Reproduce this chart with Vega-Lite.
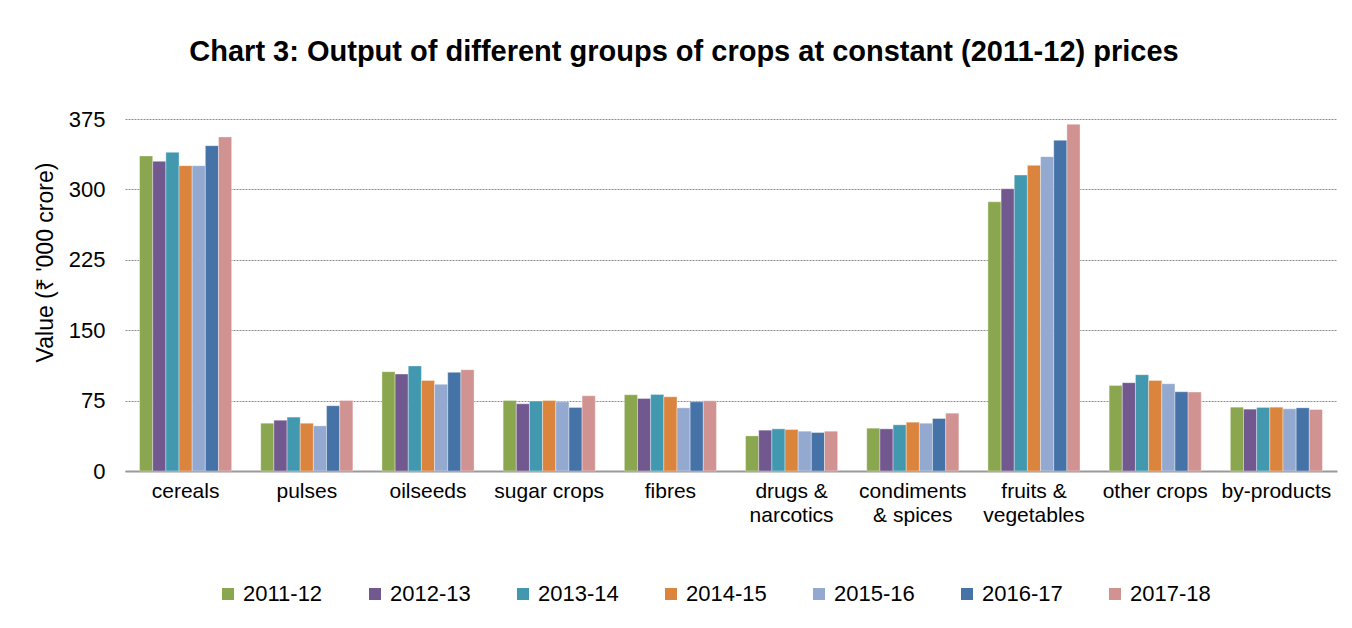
{
  "$schema": "https://vega.github.io/schema/vega-lite/v6.json",
  "width": 1212,
  "height": 352,
  "autosize": {"type": "none"},
  "padding": {"left": 125, "top": 119, "right": 15, "bottom": 157},
  "background": "white",
  "title": {
    "text": "Chart 3: Output of different groups of crops at constant (2011-12) prices",
    "font": "Liberation Sans",
    "fontSize": 29,
    "fontWeight": "bold",
    "color": "#000000",
    "anchor": "middle",
    "frame": "group",
    "dx": -47,
    "offset": 41
  },
  "data": {
    "values": [
      {"crop": "cereals", "year": "2011-12", "value": 335.6},
      {"crop": "cereals", "year": "2012-13", "value": 329.9},
      {"crop": "cereals", "year": "2013-14", "value": 339.5},
      {"crop": "cereals", "year": "2014-15", "value": 325.3},
      {"crop": "cereals", "year": "2015-16", "value": 325.3},
      {"crop": "cereals", "year": "2016-17", "value": 346.6},
      {"crop": "cereals", "year": "2017-18", "value": 355.9},
      {"crop": "pulses", "year": "2011-12", "value": 50.9},
      {"crop": "pulses", "year": "2012-13", "value": 54.1},
      {"crop": "pulses", "year": "2013-14", "value": 57.4},
      {"crop": "pulses", "year": "2014-15", "value": 50.9},
      {"crop": "pulses", "year": "2015-16", "value": 48.1},
      {"crop": "pulses", "year": "2016-17", "value": 69.5},
      {"crop": "pulses", "year": "2017-18", "value": 75.2},
      {"crop": "oilseeds", "year": "2011-12", "value": 105.8},
      {"crop": "oilseeds", "year": "2012-13", "value": 103.3},
      {"crop": "oilseeds", "year": "2013-14", "value": 111.9},
      {"crop": "oilseeds", "year": "2014-15", "value": 96.5},
      {"crop": "oilseeds", "year": "2015-16", "value": 92.3},
      {"crop": "oilseeds", "year": "2016-17", "value": 105.1},
      {"crop": "oilseeds", "year": "2017-18", "value": 107.9},
      {"crop": "sugar crops", "year": "2011-12", "value": 75.2},
      {"crop": "sugar crops", "year": "2012-13", "value": 71.6},
      {"crop": "sugar crops", "year": "2013-14", "value": 74.5},
      {"crop": "sugar crops", "year": "2014-15", "value": 75.2},
      {"crop": "sugar crops", "year": "2015-16", "value": 73.7},
      {"crop": "sugar crops", "year": "2016-17", "value": 67.7},
      {"crop": "sugar crops", "year": "2017-18", "value": 80.2},
      {"crop": "fibres", "year": "2011-12", "value": 81.2},
      {"crop": "fibres", "year": "2012-13", "value": 77.3},
      {"crop": "fibres", "year": "2013-14", "value": 81.6},
      {"crop": "fibres", "year": "2014-15", "value": 79.1},
      {"crop": "fibres", "year": "2015-16", "value": 67.3},
      {"crop": "fibres", "year": "2016-17", "value": 73.7},
      {"crop": "fibres", "year": "2017-18", "value": 74.8},
      {"crop": "drugs & narcotics", "year": "2011-12", "value": 37.4},
      {"crop": "drugs & narcotics", "year": "2012-13", "value": 43.5},
      {"crop": "drugs & narcotics", "year": "2013-14", "value": 44.9},
      {"crop": "drugs & narcotics", "year": "2014-15", "value": 44.2},
      {"crop": "drugs & narcotics", "year": "2015-16", "value": 42.4},
      {"crop": "drugs & narcotics", "year": "2016-17", "value": 41.0},
      {"crop": "drugs & narcotics", "year": "2017-18", "value": 42.4},
      {"crop": "condiments & spices", "year": "2011-12", "value": 45.6},
      {"crop": "condiments & spices", "year": "2012-13", "value": 44.9},
      {"crop": "condiments & spices", "year": "2013-14", "value": 49.2},
      {"crop": "condiments & spices", "year": "2014-15", "value": 52.0},
      {"crop": "condiments & spices", "year": "2015-16", "value": 50.9},
      {"crop": "condiments & spices", "year": "2016-17", "value": 55.9},
      {"crop": "condiments & spices", "year": "2017-18", "value": 61.6},
      {"crop": "fruits & vegetables", "year": "2011-12", "value": 286.8},
      {"crop": "fruits & vegetables", "year": "2012-13", "value": 300.7},
      {"crop": "fruits & vegetables", "year": "2013-14", "value": 315.3},
      {"crop": "fruits & vegetables", "year": "2014-15", "value": 325.6},
      {"crop": "fruits & vegetables", "year": "2015-16", "value": 334.9},
      {"crop": "fruits & vegetables", "year": "2016-17", "value": 352.3},
      {"crop": "fruits & vegetables", "year": "2017-18", "value": 369.4},
      {"crop": "other crops", "year": "2011-12", "value": 91.2},
      {"crop": "other crops", "year": "2012-13", "value": 94.1},
      {"crop": "other crops", "year": "2013-14", "value": 102.6},
      {"crop": "other crops", "year": "2014-15", "value": 96.5},
      {"crop": "other crops", "year": "2015-16", "value": 93.0},
      {"crop": "other crops", "year": "2016-17", "value": 84.4},
      {"crop": "other crops", "year": "2017-18", "value": 84.1},
      {"crop": "by-products", "year": "2011-12", "value": 68.0},
      {"crop": "by-products", "year": "2012-13", "value": 65.9},
      {"crop": "by-products", "year": "2013-14", "value": 67.7},
      {"crop": "by-products", "year": "2014-15", "value": 68.0},
      {"crop": "by-products", "year": "2015-16", "value": 66.3},
      {"crop": "by-products", "year": "2016-17", "value": 67.3},
      {"crop": "by-products", "year": "2017-18", "value": 65.5}
    ]
  },
  "mark": {"type": "bar", "stroke": "white", "strokeWidth": 0.6, "strokeOpacity": 0.6},
  "encoding": {
    "x": {
      "field": "crop",
      "type": "nominal",
      "sort": null,
      "scale": {"paddingInner": 0.24, "paddingOuter": 0.12},
      "axis": {
        "title": null,
        "labelAngle": 0,
        "labelFont": "Liberation Sans",
        "labelFontSize": 21,
        "labelColor": "#000000",
        "labelPadding": 9,
        "labelLineHeight": 24,
        "labelExpr": "datum.label == 'drugs & narcotics' ? ['drugs &', 'narcotics'] : datum.label == 'condiments & spices' ? ['condiments', '& spices'] : datum.label == 'fruits & vegetables' ? ['fruits &', 'vegetables'] : datum.label",
        "ticks": false,
        "domainColor": "#9a9a9a",
        "domainWidth": 2,
        "grid": false
      }
    },
    "xOffset": {"field": "year", "type": "nominal", "scale": {"paddingInner": 0, "paddingOuter": 0}},
    "y": {
      "field": "value",
      "type": "quantitative",
      "scale": {"domain": [0, 375], "nice": false},
      "axis": {
        "title": "Value (₹ '000 crore)",
        "titleFont": "Liberation Sans",
        "titleFontSize": 23,
        "titleFontWeight": "normal",
        "titleColor": "#000000",
        "titleX": -80,
        "titleY": 143,
        "titleBaseline": "middle",
        "values": [0, 75, 150, 225, 300, 375],
        "labelFont": "Liberation Sans",
        "labelFontSize": 22,
        "labelColor": "#000000",
        "labelPadding": 20,
        "ticks": false,
        "domain": false,
        "grid": true,
        "gridColor": "#8c8c8c",
        "gridDash": [2, 1],
        "gridWidth": 1
      }
    },
    "color": {
      "field": "year",
      "type": "nominal",
      "scale": {
        "domain": ["2011-12", "2012-13", "2013-14", "2014-15", "2015-16", "2016-17", "2017-18"],
        "range": ["#8aa64e", "#71588f", "#4198af", "#db843d", "#93a9d0", "#4572a7", "#d19392"]
      },
      "legend": {
        "title": null,
        "orient": "none",
        "legendX": 92,
        "legendY": 464,
        "direction": "horizontal",
        "columns": 7,
        "symbolType": "square",
        "symbolSize": 144,
        "symbolStrokeWidth": 0,
        "labelFont": "Liberation Sans",
        "labelFontSize": 22,
        "labelColor": "#000000",
        "labelOffset": 4,
        "columnPadding": 41
      }
    }
  },
  "config": {
    "view": {"stroke": null}
  }
}
